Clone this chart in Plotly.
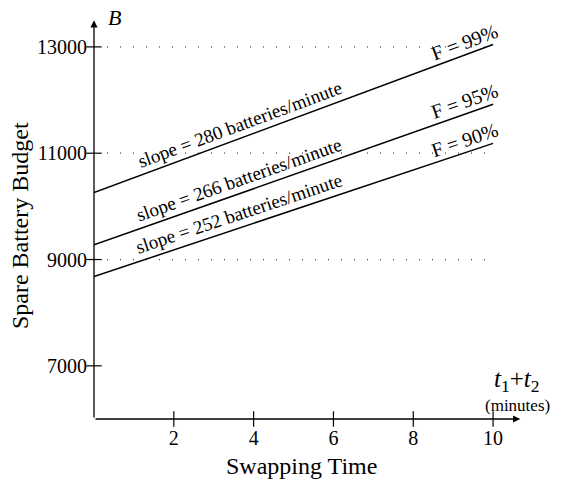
import math
import plotly.graph_objects as go

# ---- data ----
swap_time = [0, 10]
budget_99 = [10260, 13045]
budget_95 = [9275, 11920]
budget_90 = [8680, 11185]
series_labels = ["F = 99%", "F = 95%", "F = 90%"]
slope_labels = ["slope = 280 batteries/minute",
                "slope = 266 batteries/minute",
                "slope = 252 batteries/minute"]
x_ticks = [2, 4, 6, 8, 10]
y_ticks = [7000, 9000, 11000, 13000]
grid_levels = [9000, 11000, 13000]

# ---- layout constants (page body has an 8px margin) ----
W, H = 556, 474
ML, MR, MT, MB = 86, 35, 7, 63
XR = [0, 10.9]
YR = [6000, 13600]
px_x = (W - ML - MR) / (XR[1] - XR[0])
px_y = (H - MT - MB) / (YR[1] - YR[0])
FONT = "Liberation Serif, Times New Roman, serif"

fig = go.Figure()

# dotted reference lines
for g in grid_levels:
    fig.add_trace(go.Scatter(x=[swap_time[0], swap_time[-1]], y=[g, g], mode="lines",
                             line=dict(color="#444", width=1.3, dash="1px,12px"),
                             hoverinfo="skip", showlegend=False))

series = [budget_99, budget_95, budget_90]
for ys in series:
    fig.add_trace(go.Scatter(x=swap_time, y=ys, mode="lines",
                             line=dict(color="black", width=1.5),
                             showlegend=False))

# tick marks crossing axes
fig.add_trace(go.Scatter(x=x_ticks, y=[YR[0]] * len(x_ticks), mode="markers",
                         marker=dict(symbol="line-ns-open", size=11, color="black",
                                     line=dict(color="black", width=1.2)),
                         cliponaxis=False, hoverinfo="skip", showlegend=False))
fig.add_trace(go.Scatter(x=[0] * len(y_ticks), y=y_ticks, mode="markers",
                         marker=dict(symbol="line-ew-open", size=11, color="black",
                                     line=dict(color="black", width=1.2)),
                         cliponaxis=False, hoverinfo="skip", showlegend=False))

annotations = []
# axis arrows
annotations.append(dict(x=10.68, y=YR[0], ax=0, ay=YR[0], xref="x", yref="y",
                        axref="x", ayref="y", text="", showarrow=True,
                        arrowhead=2, arrowsize=1.1, arrowwidth=1.3, arrowcolor="black"))
annotations.append(dict(x=0, y=13500, ax=0, ay=YR[0], xref="x", yref="y",
                        axref="x", ayref="y", text="", showarrow=True,
                        arrowhead=2, arrowsize=1.1, arrowwidth=1.3, arrowcolor="black"))

# line labels
for ys, lab_s, lab_f in zip(series, slope_labels, series_labels):
    slope = (ys[1] - ys[0]) / (swap_time[1] - swap_time[0])
    ang = math.degrees(math.atan(slope * px_y / px_x))
    for xp, txt, o, fs in [(3.5, lab_s, 17, 19), (9.15, lab_f, 16, 20)]:
        yp = ys[0] + slope * (xp - swap_time[0])
        annotations.append(dict(x=xp, y=yp, xref="x", yref="y", text=txt,
                                showarrow=False, textangle=-ang,
                                xshift=o * math.sin(math.radians(ang)),
                                yshift=o * math.cos(math.radians(ang)),
                                font=dict(family=FONT, size=fs, color="black")))

# axis labels
annotations.append(dict(x=0.51, y=0.993, xref="x", yref="paper", text="<i>B</i>",
                        yanchor="middle", showarrow=False,
                        font=dict(family=FONT, size=22, color="black")))
annotations.append(dict(x=10.59, y=6720, xref="x", yref="y",
                        text="<i>t</i><sub>1</sub>+<i>t</i><sub>2</sub>",
                        showarrow=False, font=dict(family=FONT, size=25, color="black")))
annotations.append(dict(x=10.62, y=6260, xref="x", yref="y", text="(minutes)",
                        showarrow=False, font=dict(family=FONT, size=17, color="black")))
annotations.append(dict(x=5.2, y=YR[0], xref="x", yref="y", text="Swapping Time",
                        yshift=-47, showarrow=False,
                        font=dict(family=FONT, size=24, color="black")))
annotations.append(dict(x=0, y=9630, xref="x", yref="y", text="Spare Battery Budget",
                        xshift=-74, textangle=-90, showarrow=False,
                        font=dict(family=FONT, size=24, color="black")))

fig.update_layout(
    width=W, height=H, autosize=False,
    margin=dict(l=ML, r=MR, t=MT, b=MB),
    paper_bgcolor="white", plot_bgcolor="white",
    annotations=annotations,
    xaxis=dict(range=XR, tickmode="array", tickvals=x_ticks,
               ticktext=[str(v) for v in x_ticks], showgrid=False, zeroline=False,
               showline=False, ticks="", ticklabelstandoff=5,
               tickfont=dict(family=FONT, size=20, color="black")),
    yaxis=dict(range=YR, tickmode="array", tickvals=y_ticks,
               ticktext=[str(v) for v in y_ticks], showgrid=False, zeroline=False,
               showline=False, ticks="", ticklabelstandoff=6,
               tickfont=dict(family=FONT, size=20, color="black")),
)

fig.write_html("out.html")
